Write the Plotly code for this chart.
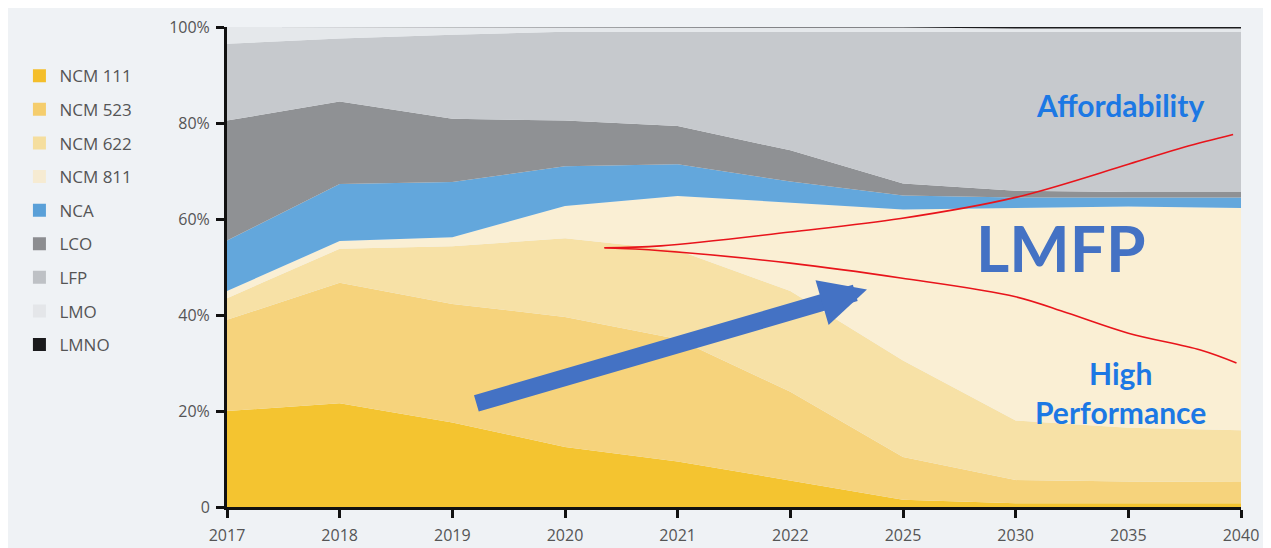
import plotly.graph_objects as go

years = ["2017", "2018", "2019", "2020", "2021", "2022", "2025", "2030", "2035", "2040"]

ncm111 = [20.0, 21.6, 17.6, 12.5, 9.5, 5.5, 1.5, 0.8, 0.8, 0.8]
ncm523 = [19.0, 25.1, 24.7, 27.1, 25.5, 18.5, 8.9, 4.8, 4.5, 4.4]
ncm622 = [4.5, 7.1, 12.0, 16.4, 18.5, 21.0, 20.1, 12.4, 11.2, 10.8]
ncm811 = [1.5, 1.6, 1.9, 6.7, 11.3, 18.4, 31.5, 44.3, 46.1, 46.3]
nca = [10.5, 11.9, 11.5, 8.3, 6.6, 4.4, 2.9, 2.2, 1.9, 2.2]
lco = [25.0, 17.2, 13.2, 9.5, 8.0, 6.5, 2.5, 1.4, 1.1, 1.1]
lfp = [16.0, 13.1, 17.5, 18.5, 19.6, 24.7, 31.6, 33.1, 33.4, 33.4]
lmo = [3.5, 2.4, 1.6, 1.0, 1.0, 1.0, 0.9, 0.7, 0.7, 0.7]
lmno = [0, 0, 0, 0, 0, 0, 0.1, 0.3, 0.3, 0.3]

series_names = ["NCM 111", "NCM 523", "NCM 622", "NCM 811", "NCA", "LCO", "LFP", "LMO", "LMNO"]
series_values = [ncm111, ncm523, ncm622, ncm811, nca, lco, lfp, lmo, lmno]
area_colors = ["#F4C430", "#F6D37C", "#F7E1A6", "#FAEFD4", "#63A7DC", "#8F9194", "#C6C9CD", "#E5E8EB", "#1C1C1E"]
legend_colors = ["#F4BE2A", "#F5CD6C", "#F5DE9E", "#F6EBD2", "#5AA0D8", "#8C8D90", "#BEC1C5", "#E4E6E9", "#1A1A1C"]

# annotation curves (x in category-index units, y in %)
upper_x = [3.35, 3.85, 5.0, 5.98, 7.0, 8.0, 8.5, 8.93]
upper_y = [54.0, 54.4, 57.3, 60.1, 64.5, 71.4, 75.0, 77.6]
lower_x = [3.35, 3.85, 5.0, 5.98, 7.0, 7.46, 8.0, 8.64, 8.96]
lower_y = [54.0, 53.4, 50.8, 47.7, 43.8, 40.4, 36.2, 32.7, 30.0]
arrow_start = (2.2, 21.5)
arrow_end = (5.68, 45.3)

xi = list(range(len(years)))
fig = go.Figure()

for name, vals, col in zip(series_names, series_values, area_colors):
    fig.add_trace(go.Scatter(
        x=xi, y=vals, name=name, stackgroup="one", mode="lines",
        line=dict(width=0, color=col), fillcolor=col, showlegend=False,
        hoverinfo="skip"))

for i, (name, col) in enumerate(zip(series_names, legend_colors)):
    fig.add_trace(go.Scatter(
        x=[None], y=[None], name=name, mode="markers",
        marker=dict(symbol="square", size=13, color=col),
        legendgroup="g%d" % i, showlegend=True))

for cx, cy in [(upper_x, upper_y), (lower_x, lower_y)]:
    fig.add_trace(go.Scatter(x=cx, y=cy, mode="lines", line=dict(color="#E8141B", width=1.6, shape="spline"),
                             showlegend=False, hoverinfo="skip"))

fig.add_annotation(x=arrow_end[0], y=arrow_end[1], ax=arrow_start[0], ay=arrow_start[1],
                   xref="x", yref="y", axref="x", ayref="y", text="", showarrow=True,
                   arrowhead=2, arrowsize=0.55, arrowwidth=17, arrowcolor="#4472C4", standoff=0)

fig.add_annotation(x=7.4, y=54, xref="x", yref="y", text="<b>LMFP</b>", showarrow=False,
                   font=dict(family="Lato", size=64, color="#4472C4"))
fig.add_annotation(x=7.93, y=83.8, xref="x", yref="y", text="<b>Affordability</b>", showarrow=False,
                   font=dict(family="Lato", size=30, color="#1C78E4"))
fig.add_annotation(x=7.93, y=23.8, xref="x", yref="y", text="<b>High<br>Performance</b>", showarrow=False,
                   font=dict(family="Lato", size=30, color="#1C78E4"), align="center")

fig.update_layout(
    width=1263, height=540,
    margin=dict(l=217, r=30, t=19, b=41),
    paper_bgcolor="#EFF2F5", plot_bgcolor="#EFF2F5",
    font=dict(family="Open Sans", color="#555555"),
    legend=dict(x=-0.2047, xanchor="left", y=0.935, yanchor="top", traceorder="grouped",
                tracegroupgap=8.5, font=dict(size=17, color="#555555"), bgcolor="rgba(0,0,0,0)",
                itemwidth=30),
    showlegend=True,
)
fig.update_xaxes(range=[0, 9], tickvals=xi, ticktext=years, showgrid=False, zeroline=False,
                 showline=True, linecolor="#111111", linewidth=3, ticks="outside", ticklen=8,
                 tickwidth=3, tickcolor="#111111", tickfont=dict(size=16, color="#555555"),
                 ticklabelstandoff=4, automargin=False)
fig.update_yaxes(range=[0, 100], tickvals=[0, 20, 40, 60, 80, 100],
                 ticktext=["0", "20%", "40%", "60%", "80%", "100%"], showgrid=False, zeroline=False,
                 showline=True, linecolor="#111111", linewidth=3, ticks="outside", ticklen=8,
                 tickwidth=3, tickcolor="#111111", tickfont=dict(size=16, color="#555555"),
                 ticklabelstandoff=3, automargin=False)

fig.write_html("out.html")
